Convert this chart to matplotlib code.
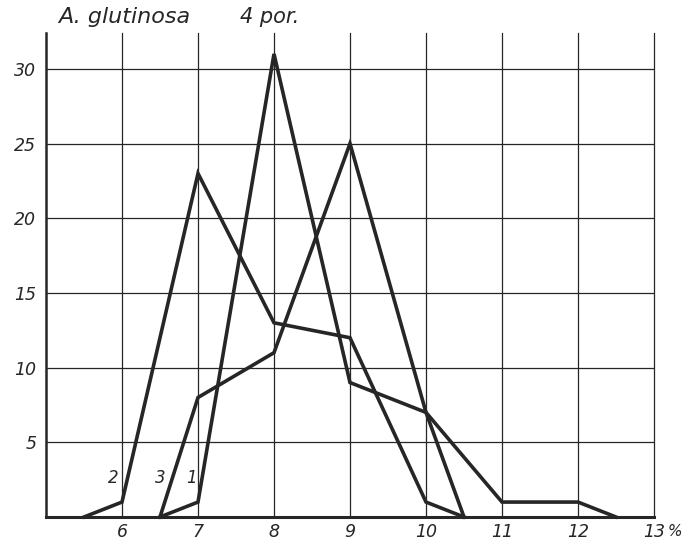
import matplotlib
matplotlib.use("Agg")
import matplotlib.pyplot as plt

# percent classes (x) and counts for the three curves
x1 = [6.5, 7, 8, 9, 10, 11, 12, 12.5]
y1 = [0, 1, 31, 9, 7, 1, 1, 0]

x2 = [5.5, 6, 7, 8, 9, 10, 10.5]
y2 = [0, 1, 23, 13, 12, 1, 0]

x3 = [6.5, 7, 8, 9, 10, 10.5]
y3 = [0, 8, 11, 25, 7, 0]

xticks = [6, 7, 8, 9, 10, 11, 12, 13]
xlabels = ['6', '7', '8', '9', '10', '11', '12', '13']
yticks = [5, 10, 15, 20, 25, 30]

ink = '#262626'

fig = plt.figure(figsize=(6.88, 5.45), dpi=100)
ax = fig.add_axes([46/688, 28/545, 608/688, 484/545])
ax.set_xlim(5, 13)
ax.set_ylim(0, 32.4)

# grid drawn by hand so the right edge line at 13 is kept
for xv in xticks:
    ax.axvline(xv, color=ink, lw=0.9, clip_on=False, zorder=1)
for yv in yticks:
    ax.axhline(yv, color=ink, lw=0.9, zorder=1)

for xs, ys in [(x1, y1), (x2, y2), (x3, y3)]:
    ax.plot(xs, ys, color=ink, lw=2.6, solid_joinstyle='miter', zorder=3, clip_on=False)

ax.spines['top'].set_visible(False)
ax.spines['right'].set_visible(False)
ax.spines['left'].set_linewidth(1.8)
ax.spines['bottom'].set_linewidth(2.2)
ax.spines['left'].set_color(ink)
ax.spines['bottom'].set_color(ink)

ax.set_xticks(xticks)
ax.set_xticklabels(xlabels)
ax.set_yticks(yticks)
ax.tick_params(length=0, labelsize=12.5, colors=ink, pad=7)
ax.tick_params(axis='x', pad=4)
for t in ax.get_xticklabels() + ax.get_yticklabels():
    t.set_fontstyle('italic')

# percent sign after the last tick label
fig.text(668/688, 1 - 531/545, '%', fontsize=11, fontstyle='italic',
         color=ink, va='center', ha='left')

# curve numbers near the bottom
for lab, xv in [('2', 5.88), ('3', 6.5), ('1', 6.92)]:
    ax.text(xv, 2.3, lab, fontsize=12, fontstyle='italic', color=ink, ha='center')

fig.text(58/688, 1 - 17/545, 'A. glutinosa', fontsize=16, fontstyle='italic',
         color=ink, va='center', ha='left')
fig.text(240/688, 1 - 17/545, '4 por.', fontsize=15, fontstyle='italic',
         color=ink, va='center', ha='left')

fig.savefig('out.png', dpi=100)
